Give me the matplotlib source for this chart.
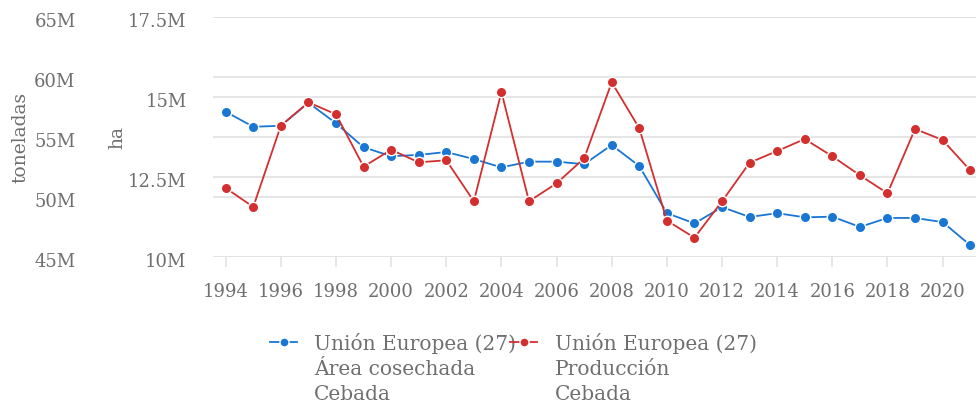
import matplotlib.pyplot as plt
import matplotlib.transforms as mtransforms
from matplotlib.legend_handler import HandlerLine2D

# Data (Unión Europea (27), cebada)
years = list(range(1994, 2022))
area_ha = [14.54, 14.07, 14.10, 14.82, 14.18, 13.43, 13.15, 13.19, 13.28, 13.06,
           12.80, 12.98, 12.98, 12.90, 13.50, 12.84, 11.37, 11.05, 11.56, 11.25,
           11.37, 11.24, 11.26, 10.94, 11.22, 11.22, 11.09, 10.37]  # millones ha
produccion_t = [50.75, 49.17, 55.94, 57.89, 56.89, 52.53, 53.94, 52.89, 53.06, 49.64,
                58.75, 49.64, 51.14, 53.22, 59.56, 55.72, 48.03, 46.61, 49.64, 52.86,
                53.83, 54.83, 53.39, 51.81, 50.31, 55.67, 54.75, 52.22]  # millones t
ha_ticks = [10, 12.5, 15, 17.5]
ha_labels = ['10M', '12.5M', '15M', '17.5M']
t_ticks = [45, 50, 55, 60, 65]
t_labels = ['45M', '50M', '55M', '60M', '65M']
x_ticks = list(range(1994, 2021, 2))

blue = '#1976d2'
red = '#d32f2f'
grey = '#6f6f6f'
gridc = '#e3e3e3'

plt.rcParams['font.family'] = ['DejaVu Serif']
plt.rcParams['font.size'] = 12.5


class TopHandler(HandlerLine2D):
    # put the legend handle next to the first line of a multi-line label
    def create_artists(self, legend, orig_handle, xdescent, ydescent, width,
                       height, fontsize, trans):
        arts = super().create_artists(legend, orig_handle, xdescent, ydescent,
                                      width, height, fontsize, trans)
        for a in arts:
            a.set_ydata([v + 19.2 for v in a.get_ydata()])
        return arts


fig = plt.figure(figsize=(9.76, 4.05), dpi=100)
ax = fig.add_axes([213 / 976, 1 - 257 / 405, 1 - 213 / 976, 240 / 405])
ax_ha = ax.twinx()
ax_red = ax.twinx()

# toneladas axis: grid + labels
ax.set_ylim(45, 65)
ax.set_yticks(t_ticks, t_labels)
ax.tick_params(axis='y', length=0, pad=99, labelcolor=grey, labelsize=13)
ax.grid(axis='y', color=gridc, linewidth=1.3)

# ha axis: grid + labels + blue line
ax_ha.set_ylim(10, 17.5)
ax_ha.yaxis.tick_left()
ax_ha.set_yticks(ha_ticks, ha_labels)
ax_ha.tick_params(axis='y', length=0, pad=19, labelcolor=grey, labelsize=13)
ax_ha.grid(axis='y', color=gridc, linewidth=1.3)
l1, = ax_ha.plot(years, area_ha, color=blue, lw=1.3, marker='o', ms=7.5,
                 mec='white', mew=1, clip_on=False,
                 label='Unión Europea (27)\nÁrea cosechada\nCebada')

# red line on top
ax_red.set_ylim(45, 65)
ax_red.set_yticks([])
l2, = ax_red.plot(years, produccion_t, color=red, lw=1.3, marker='o', ms=7.5,
                  mec='white', mew=1, clip_on=False,
                  label='Unión Europea (27)\nProducción\nCebada')

ax.set_xlim(1993.54, 2021.21)
ax.set_xticks(x_ticks)
ax.tick_params(axis='x', length=7, width=1.2, color=gridc, pad=12, labelcolor=grey,
               labelsize=13)

# y tick labels sit a little below their grid lines
shift = mtransforms.ScaledTranslation(0, -3 / 100, fig.dpi_scale_trans)
for a in (ax, ax_ha):
    for lab in a.get_yticklabels():
        lab.set_transform(lab.get_transform() + shift)
    for s in a.spines.values():
        s.set_visible(False)
for s in ax_red.spines.values():
    s.set_visible(False)

fig.text(20 / 976, 1 - 137 / 405, 'toneladas', rotation=90, ha='center', va='center',
         color=grey, fontsize=13.5)
fig.text(117 / 976, 1 - 137 / 405, 'ha', rotation=90, ha='center', va='center',
         color=grey, fontsize=13.5)

leg = fig.legend(handles=[l1, l2], loc='upper left',
                 bbox_to_anchor=(270 / 976, 1 - 333 / 405),
                 ncol=2, frameon=False, fontsize=14.5, handlelength=1.35,
                 handletextpad=0.85, columnspacing=-0.3, borderaxespad=0,
                 borderpad=0, handler_map={l1: TopHandler(), l2: TopHandler()})
for t in leg.get_texts():
    t.set_color(grey)
    t.set_linespacing(1.41)
for h in leg.legend_handles:
    h.set_markersize(6.5)

fig.savefig('out.png', dpi=100)
